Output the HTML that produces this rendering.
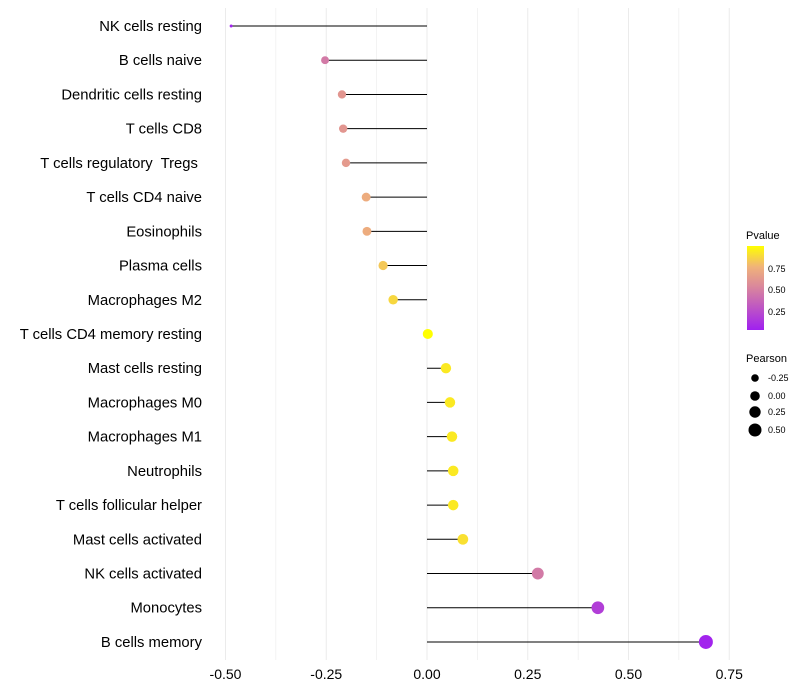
<!DOCTYPE html>
<html><head><meta charset="utf-8"><style>
body{margin:0;background:#fff;font-family:"Liberation Sans",sans-serif}
</style></head><body>
<svg id="chart" width="800" height="700" style="display:block">
<g id="grid"></g><g id="marks"></g><g id="labels"></g>
<g>
<defs><linearGradient id="pg" x1="0" y1="1" x2="0" y2="0">
<stop offset="0" stop-color="#A020F0"/><stop offset="0.5" stop-color="#D8849E"/><stop offset="0.75" stop-color="#F0B27A"/><stop offset="1" stop-color="#FFFF00"/></linearGradient></defs>
<text x="746" y="239" font-size="11">Pvalue</text>
<rect x="747" y="246" width="17" height="84" fill="url(#pg)"/>
<text x="768" y="272" font-size="9">0.75</text>
<text x="768" y="293" font-size="9">0.50</text>
<text x="768" y="315" font-size="9">0.25</text>
</g>
<g>
<text x="746" y="362" font-size="11">Pearson</text>
<circle cx="755" cy="378" r="3.8"/><text x="768" y="381" font-size="9">-0.25</text>
<circle cx="755" cy="396" r="4.8"/><text x="768" y="399" font-size="9">0.00</text>
<circle cx="755" cy="412" r="5.7"/><text x="768" y="415" font-size="9">0.25</text>
<circle cx="755" cy="430" r="6.5"/><text x="768" y="433" font-size="9">0.50</text>
</g>
</svg>
<script>
const categories=["NK cells resting","B cells naive","Dendritic cells resting","T cells CD8","T cells regulatory  Tregs ","T cells CD4 naive","Eosinophils","Plasma cells","Macrophages M2","T cells CD4 memory resting","Mast cells resting","Macrophages M0","Macrophages M1","Neutrophils","T cells follicular helper","Mast cells activated","NK cells activated","Monocytes","B cells memory"];
const pearson=[-0.486,-0.253,-0.211,-0.208,-0.201,-0.151,-0.149,-0.109,-0.084,0.002,0.047,0.057,0.062,0.065,0.065,0.089,0.275,0.424,0.692];
const pvalues=[0.02,0.45,0.6,0.6,0.62,0.72,0.72,0.82,0.87,1.0,0.93,0.93,0.93,0.93,0.93,0.9,0.45,0.15,0.02];
const xTicks=[-0.5,-0.25,0,0.25,0.5,0.75];
const xTickLabels=["-0.50","-0.25","0.00","0.25","0.50","0.75"];
const NS="http://www.w3.org/2000/svg";
const x=v=>427+v*403;
const y=i=>26+i*34.22;
function mk(t,a,p){const e=document.createElementNS(NS,t);for(const k in a)e.setAttribute(k,a[k]);p.appendChild(e);return e;}
function lerp(a,b,t){return a.map((v,i)=>Math.round(v+(b[i]-v)*t));}
function color(p){const s=[[0,[160,32,240]],[0.5,[216,132,158]],[0.75,[240,178,122]],[1,[255,255,0]]];
 p=Math.max(0,Math.min(1,p));for(let i=1;i<s.length;i++){if(p<=s[i][0]){const c=lerp(s[i-1][1],s[i][1],(p-s[i-1][0])/(s[i][0]-s[i-1][0]));return `rgb(${c})`;}}return "rgb(255,255,0)";}
const mn=Math.min(...pearson),mx=Math.max(...pearson);
const rad=v=>1.5+Math.sqrt((v-mn)/(mx-mn))*5.5;
const grid=document.getElementById('grid'),marks=document.getElementById('marks'),labels=document.getElementById('labels');
for(let k=-4;k<=6;k++){
 const v=k*0.125;
 const g=mk('line',{x1:x(v),x2:x(v),y1:8,y2:660,stroke:'#ebebeb','stroke-width':k%2===0?1:0.6},grid);
 
 
}
xTicks.forEach((v,i)=>{const t=mk('text',{x:x(v),y:679,'font-size':14,'text-anchor':'middle',fill:'#000'},labels);t.textContent=xTickLabels[i];
 
 });
categories.forEach((c,i)=>{
 const t=mk('text',{x:202,y:y(i)+5,'font-size':14.8,'text-anchor':'end',fill:'#000',style:'white-space:pre'},labels);t.textContent=c;
 
 
 const l=mk('line',{x1:x(0),x2:x(pearson[i]),y1:y(i),y2:y(i),stroke:'#000','stroke-width':1},marks);
 
 
 const d=mk('circle',{cx:x(pearson[i]),cy:y(i),r:rad(pearson[i]),fill:color(pvalues[i])},marks);
 
 
});
</script>
</body></html>
